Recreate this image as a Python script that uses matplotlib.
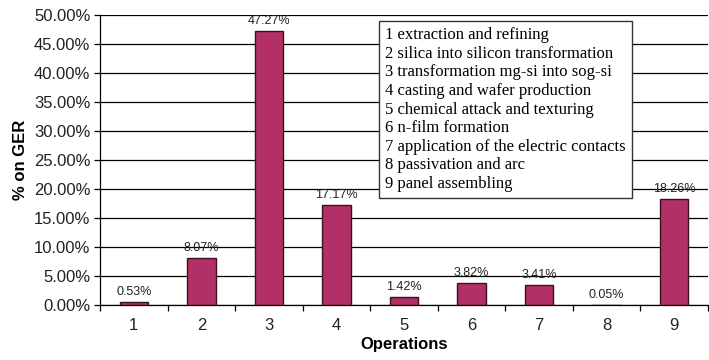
import matplotlib
matplotlib.use("Agg")
import matplotlib.pyplot as plt
from matplotlib.ticker import FixedLocator, FuncFormatter
import numpy as np

operations = ["1", "2", "3", "4", "5", "6", "7", "8", "9"]
share_ger = [0.53, 8.07, 47.27, 17.17, 1.42, 3.82, 3.41, 0.05, 18.26]
legend_lines = [
    "1 extraction and refining",
    "2 silica into silicon transformation",
    "3 transformation mg-si into sog-si",
    "4 casting and wafer production",
    "5 chemical attack and texturing",
    "6 n-film formation",
    "7 application of the electric contacts",
    "8 passivation and arc",
    "9 panel assembling",
]
y_ticks = [0, 5, 10, 15, 20, 25, 30, 35, 40, 45, 50]

sans = ["Liberation Sans", "DejaVu Sans"]
serif = ["Liberation Serif", "DejaVu Serif"]

fig = plt.figure(figsize=(7.09, 3.60), dpi=100)
ax = fig.add_axes([100 / 709, 55 / 360, 608 / 709, 290 / 360])

x = np.arange(len(operations))
ax.bar(x, share_ger, width=0.42, color="#B23065", edgecolor="#3a1020",
       linewidth=1.0, zorder=3)

for xi, v in zip(x, share_ger):
    ax.annotate(f"{v:.2f}%", (xi, v), xytext=(0, 3), textcoords="offset points",
                ha="center", va="bottom", fontsize=9, family=sans, color="#222222")

ax.set_xlim(-0.5, len(operations) - 0.5)
ax.set_ylim(0, 50)
ax.yaxis.set_major_locator(FixedLocator(y_ticks))
ax.yaxis.set_major_formatter(FuncFormatter(lambda v, p: f"{v:.2f}%"))
ax.grid(axis="y", color="black", linewidth=0.9, zorder=0)

ax.set_xticks(x)
ax.set_xticklabels(operations)
ax.set_xticks(np.arange(-0.5, len(operations) - 0.4, 1.0), minor=True)
ax.tick_params(axis="x", which="major", length=0, pad=9)
ax.tick_params(axis="x", which="minor", length=4, width=0.9, direction="out")
ax.tick_params(axis="y", length=4, width=0.9, direction="out", pad=3)

for lab in ax.get_xticklabels() + ax.get_yticklabels():
    lab.set_family(sans)
    lab.set_fontsize(12)
    lab.set_color("#222222")

for side in ("top", "right"):
    ax.spines[side].set_visible(False)
for side in ("left", "bottom"):
    ax.spines[side].set_linewidth(0.9)

ax.set_ylabel("% on GER", family=sans, fontsize=12, fontweight="bold", labelpad=4)
ax.set_xlabel("Operations", family=sans, fontsize=12, fontweight="bold", labelpad=3)

fig.text(385 / 709, 1 - 27 / 360, "\n".join(legend_lines), family=serif,
         fontsize=12, ha="left", va="top", linespacing=1.22,
         bbox=dict(boxstyle="square,pad=0.38", facecolor="white",
                   edgecolor="#333333", linewidth=1.0), zorder=5)

fig.savefig("out.png", dpi=100)
